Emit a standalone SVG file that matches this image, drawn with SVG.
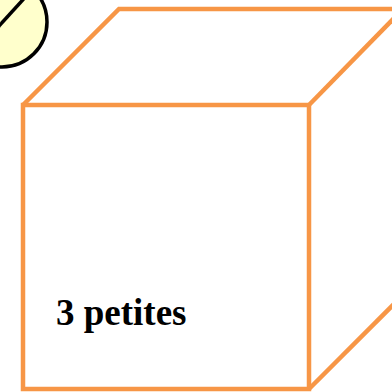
<svg xmlns="http://www.w3.org/2000/svg" width="392" height="392" viewBox="0 0 392 392">
<style>
.edge{fill:none;stroke:#F79646;stroke-width:4.5;stroke-linejoin:miter}
.lbl{font-family:"Liberation Serif","Times New Roman",serif;font-weight:bold;font-size:37px;fill:#000}
</style>
<rect width="392" height="392" fill="#fff"/>
<g id="ball">
<circle cx="2" cy="22" r="45" fill="#FFFFCC" stroke="#000" stroke-width="3.5"/>
<line x1="-12" y1="38" x2="30" y2="-8" stroke="#000" stroke-width="3.5"/>
</g>
<g id="cube">
<rect class="edge" x="23" y="105" width="286" height="284"/>
<polyline class="edge" points="23,105 119,9 400,9"/>
<line class="edge" x1="309" y1="105" x2="400" y2="12"/>
<line class="edge" x1="309" y1="389" x2="400" y2="298"/>
<text class="lbl" x="56" y="325">3 petites</text>
</g>
</svg>
